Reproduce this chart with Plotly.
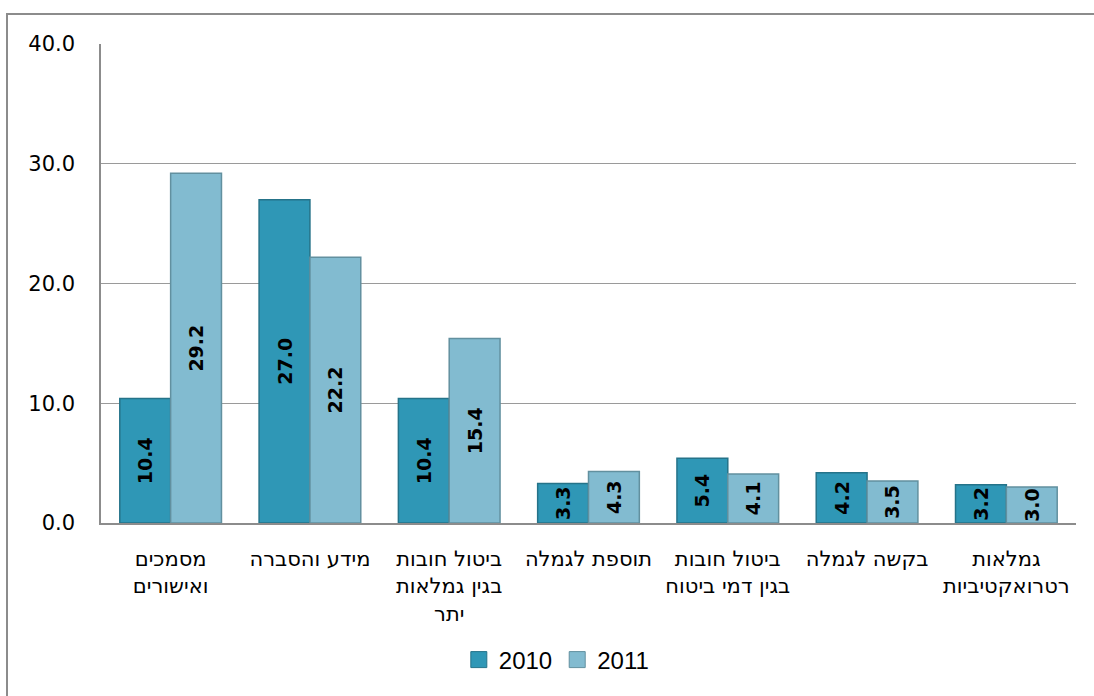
import plotly.graph_objects as go

# Request categories (Hebrew, multi-line labels)
categories = [
    "מסמכים<br>ואישורים",
    "מידע והסברה",
    "ביטול חובות<br>בגין גמלאות<br>יתר",
    "תוספת לגמלה",
    "ביטול חובות<br>בגין דמי ביטוח",
    "בקשה לגמלה",
    "גמלאות<br>רטרואקטיביות",
]
values_2010 = [10.4, 27.0, 10.4, 3.3, 5.4, 4.2, 3.2]
values_2011 = [29.2, 22.2, 15.4, 4.3, 4.1, 3.5, 3.0]
series_names = ["2010", "2011"]
series_colors = ["#2F97B6", "#82BBD0"]
series_edges = ["#257389", "#62909F"]
y_ticks = [0, 10, 20, 30, 40]

W, H = 1094, 696
L, R, T, B = 101, 18, 44, 173
plot_w = W - L - R
plot_h = H - T - B

text_font = dict(family="DejaVu Sans", size=19, color="#000000", weight="bold")

fig = go.Figure()
for name, vals, col, edge in zip(series_names, [values_2010, values_2011],
                                 series_colors, series_edges):
    fig.add_trace(go.Bar(
        x=categories, y=vals, name=name, showlegend=False,
        marker=dict(color=col, line=dict(color=edge, width=1.5)),
        text=[f"{v:.1f}" for v in vals], textposition="inside",
        insidetextanchor="middle", textangle=-90, textfont=text_font,
        constraintext="none", cliponaxis=False,
    ))
    # legend entry with a larger square swatch
    fig.add_trace(go.Scatter(
        x=[None], y=[None], mode="markers", name=name, showlegend=True,
        marker=dict(symbol="square", size=16, color=col,
                    line=dict(color=edge, width=1)),
    ))

# Outer chart frame (left and top edges visible)
fig.add_shape(
    type="rect", xref="paper", yref="paper",
    x0=(7 - L) / plot_w, x1=(W + 20 - L) / plot_w,
    y0=-(H + 20 - T - plot_h) / plot_h, y1=(T + plot_h - 14) / plot_h,
    line=dict(color="#8C8C8C", width=2), fillcolor="rgba(0,0,0,0)", layer="below",
)

fig.update_layout(
    width=W, height=H,
    margin=dict(l=L, r=R, t=T, b=B),
    paper_bgcolor="white", plot_bgcolor="white",
    barmode="group", bargap=0.27, bargroupgap=0,
    uniformtext=dict(minsize=19, mode="show"),
    legend=dict(
        orientation="h", x=0.467, xanchor="center",
        y=(T + plot_h - 660) / plot_h, yanchor="middle",
        font=dict(family="Liberation Sans", size=24, color="#000000"),
        itemwidth=30, traceorder="normal",
    ),
    xaxis=dict(
        showgrid=False, showline=True, linecolor="#8C8C8C", linewidth=1.5,
        ticks="", tickfont=dict(family="DejaVu Sans", size=21, color="#000000"),
        ticklabelstandoff=16,
    ),
    yaxis=dict(
        range=[0, 40], tickvals=y_ticks, tickformat=".1f",
        showgrid=True, gridcolor="#9A9A9A", gridwidth=1,
        showline=True, linecolor="#8C8C8C", linewidth=1.5,
        zeroline=False, ticks="",
        tickfont=dict(family="DejaVu Sans", size=21, color="#000000"),
        ticklabelstandoff=20,
    ),
)

fig.write_html("out.html")
